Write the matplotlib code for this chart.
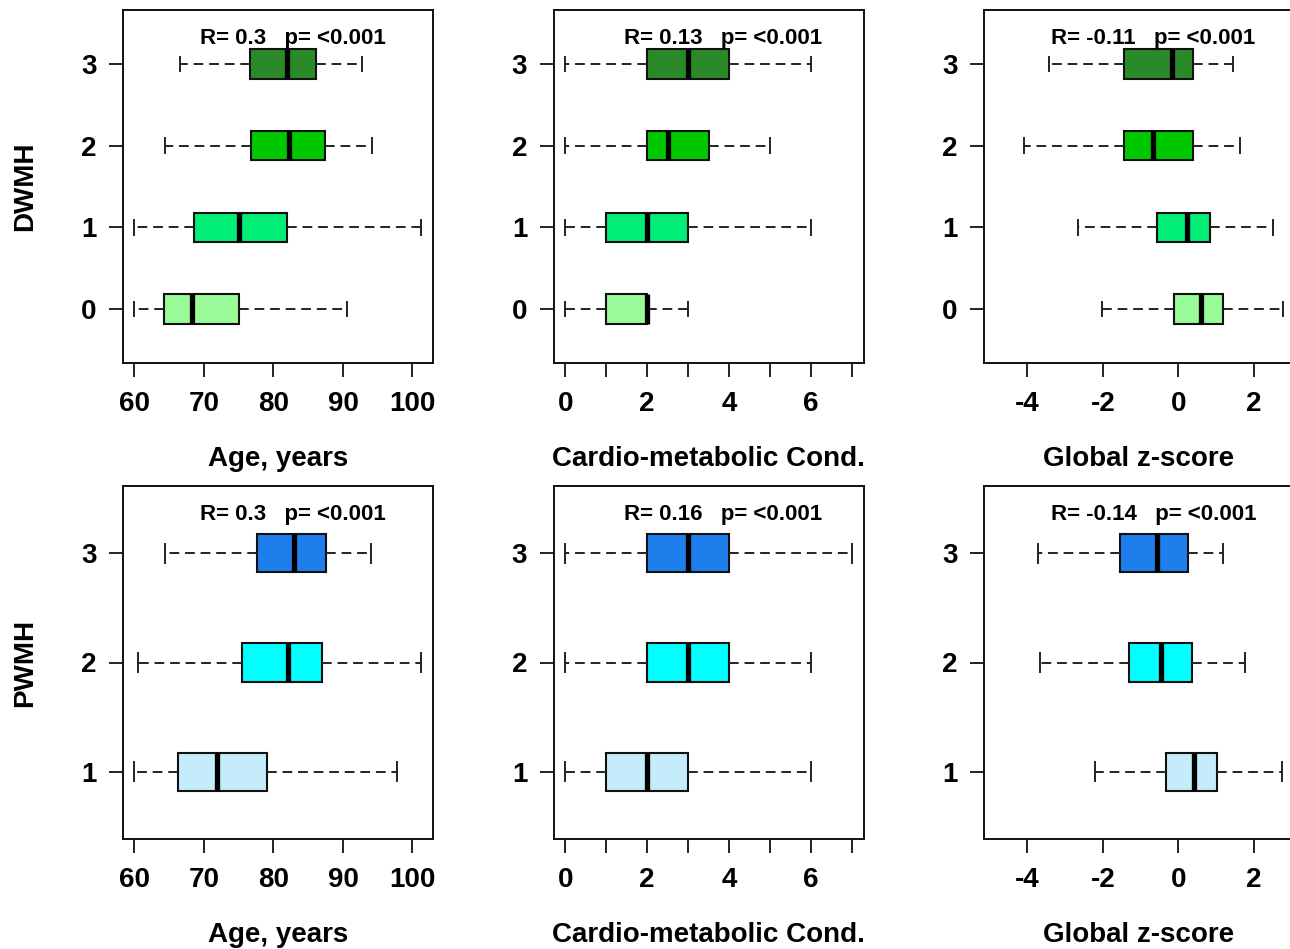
import matplotlib.pyplot as plt

plt.rcParams['font.family'] = ['Liberation Sans', 'DejaVu Sans']
plt.rcParams['font.weight'] = 'bold'

# five-number summaries:
# [whisker low, Q1, median, Q3, whisker high], one row per group
dwmh_groups = [0, 1, 2, 3]
pwmh_groups = [1, 2, 3]

age_dwmh = [[60.0, 64.3, 68.3, 75.1, 90.6],
            [60.0, 68.5, 75.1, 82.0, 101.2],
            [64.4, 76.7, 82.3, 87.4, 94.2],
            [66.6, 76.6, 82.0, 86.1, 92.8]]
cardio_dwmh = [[0, 1, 2, 2, 3],
               [0, 1, 2, 3, 6],
               [0, 2, 2.5, 3.5, 5],
               [0, 2, 3, 4, 6]]
zscore_dwmh = [[-2.03, -0.11, 0.60, 1.17, 2.76],
               [-2.65, -0.56, 0.22, 0.84, 2.51],
               [-4.08, -1.44, -0.68, 0.38, 1.63],
               [-3.44, -1.45, -0.18, 0.38, 1.44]]

age_pwmh = [[60.0, 66.3, 71.9, 79.0, 97.8],
            [60.5, 75.4, 82.1, 87.0, 101.2],
            [64.4, 77.7, 82.9, 87.5, 94.1]]
cardio_pwmh = [[0, 1, 2, 3, 6],
               [0, 2, 3, 4, 6],
               [0, 2, 3, 4, 7]]
zscore_pwmh = [[-2.22, -0.32, 0.41, 1.03, 2.75],
               [-3.68, -1.31, -0.46, 0.36, 1.75],
               [-3.73, -1.55, -0.56, 0.25, 1.19]]

r_dwmh = ['0.3', '0.13', '-0.11']
r_pwmh = ['0.3', '0.16', '-0.14']
p_text = '<0.001'

dwmh_colors = ['#98FB98', '#00EE76', '#00C800', '#2A8A2A']
pwmh_colors = ['#C4ECFB', '#00FFFF', '#1E7FEC']

xlabels = ['Age, years', 'Cardio-metabolic Cond.', 'Global z-score']
row_labels = ['DWMH', 'PWMH']

xlims = [(58.35, 102.95), (-0.28, 7.28), (-5.15, 3.06)]
xticks = [[60, 70, 80, 90, 100], list(range(8)), [-4, -2, 0, 2]]
xticklabels = [['60', '70', '80', '90', '100'],
               ['0', '', '2', '', '4', '', '6', ''],
               ['-4', '-2', '0', '2']]

W, H = 1290, 949
fig = plt.figure(figsize=(W / 100, H / 100), dpi=100)

col_x = [123, 553.7, 984]
row_y = [(10, 363), (485.7, 839.3)]
panel_w = 310

rows = [
    (dwmh_groups, [age_dwmh, cardio_dwmh, zscore_dwmh], r_dwmh, dwmh_colors, 0.36, (-0.66, 3.66)),
    (pwmh_groups, [age_pwmh, cardio_pwmh, zscore_pwmh], r_pwmh, pwmh_colors, 0.35, (0.38, 3.62)),
]

for ri, (groups, panels, rvals, colors, bw, ylim) in enumerate(rows):
    top, bot = row_y[ri]
    for ci in range(3):
        ax = fig.add_axes([col_x[ci] / W, 1 - bot / H, panel_w / W, (bot - top) / H])
        stats = [dict(whislo=s[0], q1=s[1], med=s[2], q3=s[3], whishi=s[4])
                 for s in panels[ci]]
        bp = ax.bxp(stats, positions=groups, widths=bw, capwidths=bw / 2,
                    orientation='horizontal', patch_artist=True,
                    showfliers=False, manage_ticks=False,
                    boxprops=dict(edgecolor='#111111', linewidth=1.5),
                    medianprops=dict(color='black', linewidth=3.8, solid_capstyle='butt'),
                    whiskerprops=dict(color='#222222', linewidth=1.4,
                                      linestyle=(0, (5, 3))),
                    capprops=dict(color='#222222', linewidth=1.4))
        for patch, c in zip(bp['boxes'], colors):
            patch.set_facecolor(c)

        ax.set_xlim(*xlims[ci])
        ax.set_ylim(*ylim)
        ax.set_xticks(xticks[ci])
        ax.set_xticklabels(xticklabels[ci])
        ax.set_yticks(groups)
        ax.set_yticklabels([str(g) for g in groups])
        ax.tick_params(axis='both', direction='out', length=10, width=1.4,
                       labelsize=20, color='#222222')
        ax.tick_params(axis='x', pad=10)
        ax.tick_params(axis='y', pad=9)
        for sp in ax.spines.values():
            sp.set_linewidth(1.4)
            sp.set_color('#111111')
        ax.set_xlabel(xlabels[ci], fontsize=20, fontweight='bold', labelpad=21)
        ax.text(0.547, 0.918, f'R= {rvals[ci]}   p= {p_text}',
                transform=ax.transAxes, ha='center', va='center',
                fontsize=16, fontweight='bold')
        if ci == 0:
            ax.set_ylabel(row_labels[ri], fontsize=20, fontweight='bold', labelpad=31)

fig.savefig('out.png', dpi=100)
